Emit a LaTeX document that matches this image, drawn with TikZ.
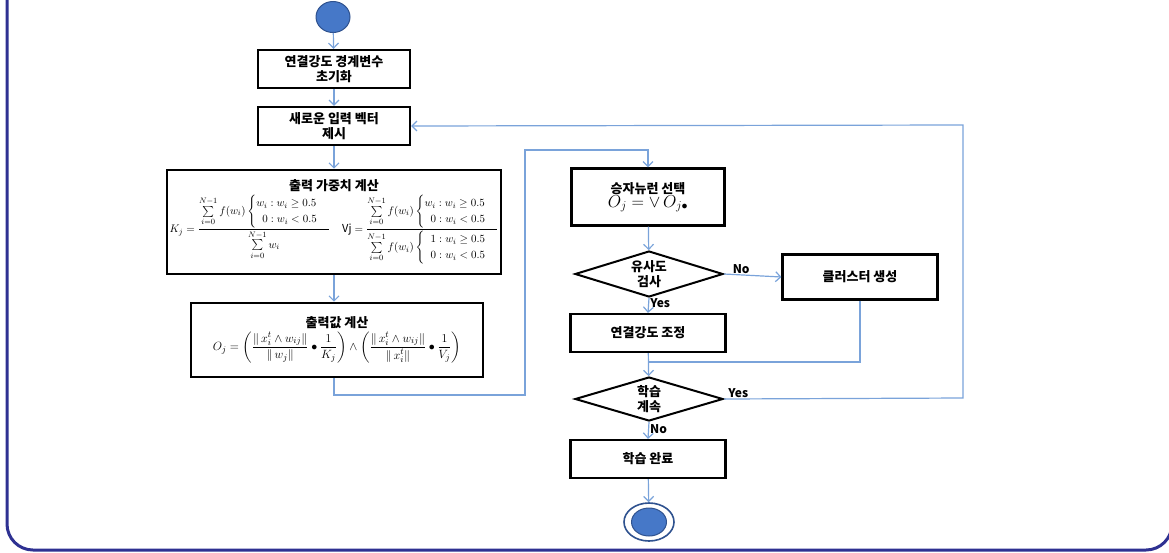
\documentclass[tikz,border=0pt]{standalone}
\usepackage{amsmath}
\usepackage{amssymb}
\usepackage{fontspec}
\setmainfont{Noto Sans CJK KR}
\usetikzlibrary{shapes.geometric}
\usetikzlibrary{arrows.meta}
\usetikzlibrary{positioning}

\definecolor{flowblue}{RGB}{122,163,218}
\definecolor{framenavy}{RGB}{46,49,146}
\definecolor{dotfill}{RGB}{70,120,200}
\definecolor{dotline}{RGB}{47,82,143}

\begin{document}
\begin{tikzpicture}[
    x=1pt, y=-1pt,
    every node/.style={font=\fontsize{13}{15}\selectfont\bfseries},
    procbox/.style={draw, line width=2.2pt, fill=white, align=center, inner sep=2pt},
    bigbox/.style={draw, line width=2.6pt, fill=white, align=center, inner sep=2pt},
    decision/.style={draw, diamond, line width=2pt, fill=white, align=center, inner sep=0pt, shape aspect=3.2},
    dot/.style={ellipse, draw=dotline, line width=1pt, fill=dotfill, minimum width=34, minimum height=31},
    flow/.style={draw=flowblue, line width=1.2pt, -{Straight Barb[length=5pt,width=10pt]}},
    link/.style={draw=flowblue, line width=1.2pt},
    answer/.style={font=\fontsize{12}{14}\selectfont\bfseries, inner sep=1pt}
]
\useasboundingbox (0,0) rectangle (1169,552);
\draw[framenavy, line width=3pt, rounded corners=26pt] (7,-40) rectangle (1172,550);

% left column
\node[dot] (start) at (333,17) {};
\node[procbox, minimum width=152, minimum height=38] (init) at (334,69) {연결강도 경계변수\\초기화};
\node[procbox, minimum width=152, minimum height=38] (input) at (334,126) {새로운 입력 벡터\\제시};
\node[bigbox, minimum width=334, minimum height=104] (weight) at (334,222) {출력 가중치 계산\\[2pt]
  \fontsize{11}{13}\selectfont
  $\displaystyle K_j=\frac{\sum\limits_{i=0}^{N-1} f(w_i)\begin{cases} w_i : w_i \ge 0.5\\ \;\;0 : w_i < 0.5\end{cases}}{\sum\limits_{i=0}^{N-1} w_i}$\hspace{12pt}%
  $\displaystyle \mathrm{Vj}=\frac{\sum\limits_{i=0}^{N-1} f(w_i)\begin{cases} w_i : w_i \ge 0.5\\ \;\;0 : w_i < 0.5\end{cases}}{\sum\limits_{i=0}^{N-1} f(w_i)\begin{cases} \;\;1 : w_i \ge 0.5\\ \;\;0 : w_i < 0.5\end{cases}}$};
\node[bigbox, minimum width=292, minimum height=74] (output) at (337,340) {출력값 계산\\[2pt]
  \fontsize{13}{15}\selectfont
  $\displaystyle O_j=\left(\frac{\|\, x_i^{t}\wedge w_{ij} \|}{\|\, w_j \|}\bullet\frac{1}{K_j}\right)\wedge\left(\frac{\|\, x_i^{t}\wedge w_{ij} \|}{\|\, x_i^{t} \|}\bullet\frac{1}{V_j}\right)$};

% right column
\node[procbox, minimum width=153, minimum height=57] (winner) at (648,197) {승자뉴런 선택\\[-1pt]
  \fontsize{18}{20}\selectfont$O_j=\vee\, O_{j\bullet}$};
\node[decision, minimum width=148, minimum height=46] (similar) at (649,274) {유사도\\ 검사};
\node[procbox, minimum width=155, minimum height=45] (cluster) at (860,277) {클러스터 생성};
\node[procbox, minimum width=155, minimum height=38] (adjust) at (648,333) {연결강도 조정};
\node[decision, minimum width=148, minimum height=44] (continue) at (649,399) {학습\\ 계속};
\node[procbox, minimum width=155, minimum height=38] (done) at (648,459) {학습 완료};
\node[ellipse, draw=dotline, line width=1.6pt, minimum width=50, minimum height=38] (finish) at (649,522) {};
\node[dot, minimum width=35, minimum height=28] (finishdot) at (finish.center) {};

\coordinate (loopA) at (525,395);
\coordinate (loopB) at (525,150);
\coordinate (merge) at (648,362);
\coordinate (backA) at (963,398);
\coordinate (backB) at (963,125);

% connectors
\draw[flow] (start) -- (init);
\draw[flow] (init) -- (input);
\draw[flow] (input) -- (weight.north -| input);
\draw[flow] (weight.south -| input) -- (output.north -| input);
\draw[flow] (output.south -| input) |- (loopA) -- (loopB) -| (winner.north);
\draw[flow] (winner) -- (similar);
\draw[flow] (similar.east) -- node[answer, above, pos=0.3] {No} (cluster.west);
\draw[flow] (similar.south) -- node[answer, right, pos=0.35] {Yes} (adjust.north);
\draw[link] (cluster.south) |- (merge);
\draw[flow] (adjust) -- (continue);
\draw[flow] (continue.east) -- node[answer, above, pos=0.06] {Yes} (backA) -- (backB) -- (input.east);
\draw[flow] (continue.south) -- node[answer, right, pos=0.4] {No} (done.north);
\draw[flow] (done) -- (finish);
\end{tikzpicture}
\end{document}
